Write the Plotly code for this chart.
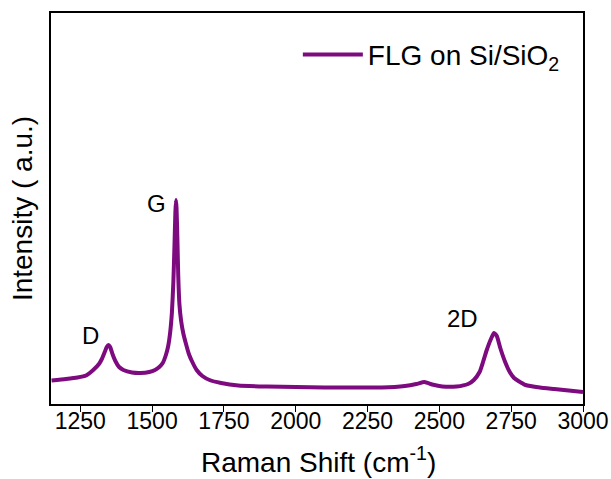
import plotly.graph_objects as go

# Raman spectrum of few-layer graphene on Si/SiO2 (arbitrary intensity units)
shift = [1150, 1200, 1240, 1270, 1295, 1315, 1325, 1335, 1342, 1348, 1354, 1362,
         1372, 1385, 1400, 1430, 1460, 1490, 1510, 1525, 1537, 1548, 1556, 1563,
         1569, 1574, 1578, 1581, 1583, 1585, 1588, 1591, 1595, 1601, 1609, 1618,
         1628, 1640, 1655, 1675, 1700, 1740, 1800, 1900, 2000, 2100, 2200, 2300,
         2380, 2420, 2448, 2475, 2510, 2560, 2600, 2620, 2640, 2652, 2665, 2678,
         2690, 2700, 2712, 2729, 2745, 2760, 2775, 2800, 2850, 2900, 2950, 3000]
intensity = [23.5, 25, 26.5, 28.5, 34, 40, 45, 52, 57, 59, 57, 50,
             43, 37, 34, 31.5, 31, 32, 34, 37, 41, 49, 58, 72,
             92, 122, 160, 192, 204, 196, 165, 128, 100, 83, 70, 60,
             50, 42, 34, 28, 24, 21, 18.5, 17.5, 17, 16.5, 16.5, 16.5,
             18, 20, 22, 19.5, 17.5, 17.5, 20, 24, 32, 42, 54, 64,
             71, 68, 56, 42, 32, 26, 23, 19, 16.5, 15, 13.5, 12]

peak_names = ["D", "G", "2D"]
peak_label_x = [1287, 1516, 2579]
peak_label_y = [69, 201, 86]

purple = "#7d0a7f"
font = "Liberation Sans, Arial, sans-serif"

fig = go.Figure()
fig.add_trace(go.Scatter(
    x=shift, y=intensity, mode="lines",
    name="FLG on Si/SiO<sub>2</sub>",
    line=dict(color=purple, width=4, shape="spline", smoothing=0.5),
))

for name, lx, ly in zip(peak_names, peak_label_x, peak_label_y):
    fig.add_annotation(x=lx, y=ly, text=name, showarrow=False,
                       font=dict(family=font, size=24, color="black"))

# x-axis title placed below the tick labels
fig.add_annotation(x=0.502, y=-0.142, xref="paper", yref="paper",
                   text="Raman Shift (cm<sup>-1</sup>)", showarrow=False,
                   xanchor="center", yanchor="middle",
                   font=dict(family=font, size=28, color="black"))

fig.update_layout(
    width=611, height=479,
    margin=dict(l=51, r=28, t=13, b=75),
    paper_bgcolor="white", plot_bgcolor="white",
    font=dict(family=font, color="black"),
    showlegend=True,
    legend=dict(x=0.464, y=0.893, xanchor="left", yanchor="middle",
                bgcolor="rgba(0,0,0,0)", font=dict(size=28, family=font),
                itemwidth=60),
    xaxis=dict(
        range=[1148, 3000], tickvals=[1250, 1500, 1750, 2000, 2250, 2500, 2750, 3000],
        ticks="outside", ticklen=6, tickwidth=1.2, tickcolor="black",
        showline=True, linecolor="black", linewidth=1.5, mirror=True,
        showgrid=False, zeroline=False, automargin=False,
        ticklabelstandoff=-10,
        tickfont=dict(size=23, family=font),
    ),
    yaxis=dict(
        range=[0, 391], showticklabels=False, ticks="",
        showline=True, linecolor="black", linewidth=1.5, mirror=True,
        showgrid=False, zeroline=False, automargin=False,
        title=dict(text="Intensity ( a.u.)", font=dict(size=28, family=font),
                   standoff=8),
    ),
)

fig.write_html("out.html")
